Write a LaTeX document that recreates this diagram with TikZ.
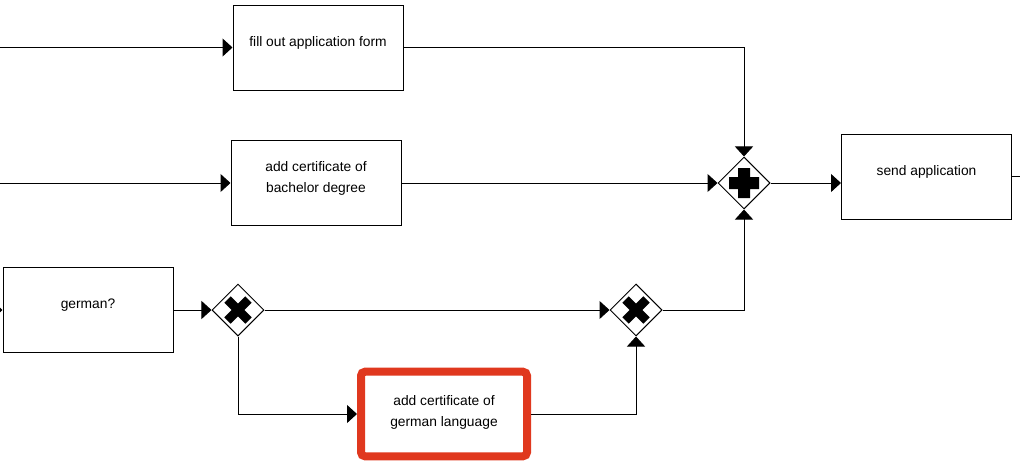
\documentclass[tikz,border=0pt]{standalone}
\usepackage{fontspec}
\setmainfont{Liberation Sans}
\usepackage{xcolor}
\usepackage{tikz}
\usetikzlibrary{shapes.geometric}
\usetikzlibrary{arrows.meta}
\usetikzlibrary{shadows}

\definecolor{markred}{HTML}{E0381E}

\tikzset{
    flow/.style = {line width = 0.75pt, -{Triangle[length = 7.5pt, width = 13.5pt]}},
    task/.style = {draw, fill = white, line width = 0.75pt, minimum width = 127.5pt,
        minimum height = 63.75pt, inner sep = 0pt},
    tasktext/.style = {font = \fontsize{10.35}{15.75}\selectfont, align = center, yshift = 3.75pt},
    gateway/.style = {draw, diamond, fill = white, line width = 0.75pt, minimum size = 39pt, inner sep = 0pt},
}

\begin{document}
\begin{tikzpicture}[x = 0.75pt, y = -0.75pt]
        \useasboundingbox (0, 0) rectangle (1020, 464);
        \clip (0, 0) rectangle (1020, 464);

        \node[task, label = {[tasktext]center:fill out application form}] (form) at (318, 47.5) {};
        \node[task, label = {[tasktext]center:add certificate of\\bachelor degree}] (bach) at (316, 183) {};
        \node[task, label = {[tasktext]center:send application}] (send) at (926.5, 176.5) {};
        \node[task, label = {[tasktext]center:german?}] (german) at (88, 310) {};
        \node[task, draw = markred, line width = 6pt, rounded corners = 3pt,
            minimum width = 124.5pt, minimum height = 63.4pt,
            drop shadow = {opacity = 0.25, shadow xshift = 1pt, shadow yshift = -1.5pt},
            label = {[tasktext, yshift = -2.25pt]center:add certificate of\\german language}] (lang) at (444, 414) {};

        \node[gateway] (join) at (744, 183) {};
        \node[gateway] (split) at (238, 310) {};
        \node[gateway] (merge) at (636, 310) {};

        \fill[shift = {(join)}] (-15, -6) rectangle (15, 6) (-6, -15) rectangle (6, 15);
        \draw[shift = {(split)}, line width = 6.75pt] (-10.5, -10.5) -- (10.5, 10.5) (-10.5, 10.5) -- (10.5, -10.5);
        \draw[shift = {(merge)}, line width = 6.75pt] (-10.5, -10.5) -- (10.5, 10.5) (-10.5, 10.5) -- (10.5, -10.5);

        \coordinate (in1) at (-20, 47.5);
        \coordinate (in2) at (-20, 183);
        \coordinate (in3) at (-20, 310);
        \coordinate (out) at (1040, 176.5);

        \draw[flow] (in1) -- (form);
        \draw[flow] (in2) -- (bach);
        \draw[flow] (in3) -- (german);
        \draw[flow] (form) -| (join);
        \draw[flow] (bach) -- (join);
        \draw[flow] (join.east) -- (join.east -| send.west);
        \draw[line width = 0.75pt] (send) -- (out);
        \draw[flow] (german) -- (split);
        \draw[flow] (split) -- (merge);
        \draw[flow] (split) |- (lang);
        \draw[flow] (lang) -| (merge);
        \draw[flow] (merge) -| (join);
    \end{tikzpicture}
\end{document}
